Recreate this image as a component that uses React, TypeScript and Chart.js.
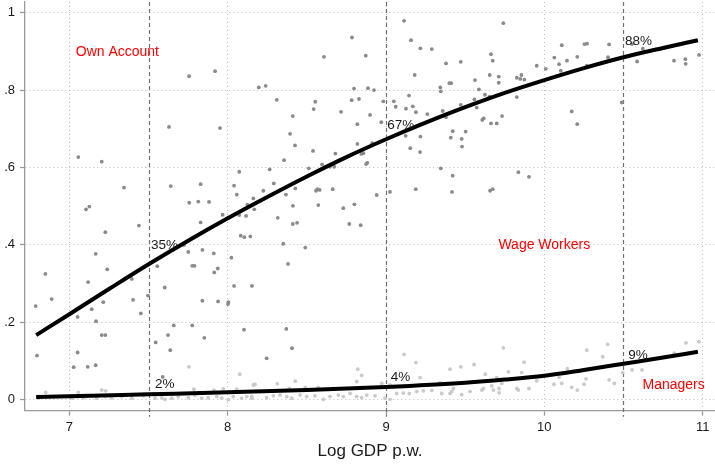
import React, { useEffect, useRef } from "react";
import { Chart, registerables } from "chart.js";

Chart.register(...registerables);

// ---- Data ----
const xTickValues = [7, 8, 9, 10, 11];
const xTickLabels = ["7", "8", "9", "10", "11"];
const yTickValues = [0, 0.2, 0.4, 0.6, 0.8, 1];
const yTickLabels = ["0", ".2", ".4", ".6", ".8", "1"];
const xAxisTitle = "Log GDP p.w.";

// Share of wage workers (dark points)
const wageWorkerPoints: [number, number][] = [
  [7.056, 0.627], [7.204, 0.615], [7.345, 0.548], [7.629, 0.705], [7.756, 0.836], [7.92, 0.849], [7.951, 0.702],
  [6.787, 0.242], [6.848, 0.325], [6.888, 0.26], [6.795, 0.114], [7.105, 0.492], [7.126, 0.499], [7.227, 0.433],
  [7.166, 0.377], [7.239, 0.337], [7.118, 0.304], [7.141, 0.234], [7.214, 0.252], [7.168, 0.203], [7.052, 0.214],
  [7.394, 0.312], [7.402, 0.258], [7.439, 0.45], [7.451, 0.223], [7.496, 0.269], [7.052, 0.122], [7.027, 0.084],
  [7.116, 0.085], [7.166, 0.089], [7.204, 0.167], [7.227, 0.167], [7.602, 0.29], [7.545, 0.148], [7.623, 0.167],
  [7.659, 0.192], [7.637, 0.128], [7.589, 0.059], [7.84, 0.256], [7.939, 0.254], [8.004, 0.252], [8.002, 0.247],
  [8.04, 0.294], [7.776, 0.192], [7.852, 0.16],
  [7.64, 0.552], [7.829, 0.557], [7.757, 0.509], [7.814, 0.512], [7.882, 0.511], [7.829, 0.458], [7.968, 0.478],
  [8.073, 0.589], [8.04, 0.553], [8.057, 0.53], [8.124, 0.504], [8.162, 0.52], [8.168, 0.492], [8.073, 0.477],
  [8.116, 0.475], [8.082, 0.424], [8.105, 0.42], [8.143, 0.422], [8.023, 0.367], [7.751, 0.382], [7.84, 0.387],
  [7.912, 0.378], [7.776, 0.346], [7.79, 0.346], [7.915, 0.329], [7.937, 0.339], [7.555, 0.345], [7.724, 0.4],
  [8.265, 0.595], [8.356, 0.619], [8.291, 0.559], [8.225, 0.54], [8.368, 0.53], [8.427, 0.546], [8.412, 0.501],
  [8.316, 0.47], [8.411, 0.454], [8.438, 0.457], [8.351, 0.403], [8.381, 0.351], [8.49, 0.393], [8.512, 0.598],
  [8.596, 0.608], [8.539, 0.643], [8.68, 0.636], [8.663, 0.544], [8.558, 0.54], [8.566, 0.544], [8.581, 0.542],
  [8.572, 0.503], [8.73, 0.495], [8.8, 0.505], [8.768, 0.454], [8.84, 0.451], [8.941, 0.529], [8.844, 0.635],
  [8.857, 0.637], [8.874, 0.609], [8.882, 0.612], [8.646, 0.602], [8.673, 0.602],
  [9.114, 0.979], [9.158, 0.929], [9.217, 0.908], [9.289, 0.906], [9.379, 0.869], [9.472, 0.873], [9.181, 0.839],
  [9.562, 0.826], [8.785, 0.936], [8.608, 0.886], [8.872, 0.889], [8.196, 0.807], [8.24, 0.811], [8.31, 0.775],
  [8.798, 0.804], [8.886, 0.805], [8.924, 0.8], [8.783, 0.774], [8.829, 0.777], [8.553, 0.77], [8.543, 0.751],
  [8.716, 0.744], [8.899, 0.736], [8.983, 0.771], [9.049, 0.771], [9.061, 0.757], [9.145, 0.786], [9.126, 0.752],
  [9.169, 0.758], [9.189, 0.743], [9.261, 0.738], [9.346, 0.797], [9.343, 0.807], [9.4, 0.818], [9.411, 0.818],
  [9.358, 0.746], [9.379, 0.73], [9.472, 0.762], [9.558, 0.776], [8.411, 0.733], [8.394, 0.687], [8.425, 0.657],
  [8.819, 0.712], [8.819, 0.661], [8.913, 0.663], [8.97, 0.717], [9.025, 0.537], [9.124, 0.682], [9.153, 0.65],
  [9.217, 0.68], [9.215, 0.64], [9.188, 0.544], [9.346, 0.598], [9.421, 0.694], [9.409, 0.677], [9.478, 0.674],
  [9.503, 0.693], [9.48, 0.654], [9.421, 0.579], [9.417, 0.537],
  [8.103, 0.181], [8.37, 0.183], [8.406, 0.133], [8.246, 0.107], [8.153, 0.294],
  [9.741, 0.973], [9.663, 0.893], [9.674, 0.876], [9.655, 0.839], [9.712, 0.835], [9.712, 0.819], [9.587, 0.802],
  [9.625, 0.788], [9.653, 0.783], [9.573, 0.755], [9.608, 0.723], [9.617, 0.727], [9.663, 0.714], [9.699, 0.714],
  [9.733, 0.733], [9.826, 0.832], [9.848, 0.829], [9.874, 0.827], [9.855, 0.839], [9.826, 0.782], [9.952, 0.863],
  [10.009, 0.855], [10.063, 0.884], [10.093, 0.867], [10.104, 0.85], [10.11, 0.916], [10.143, 0.876], [10.208, 0.886],
  [10.253, 0.919], [10.27, 0.92], [10.268, 0.863], [10.409, 0.918], [10.402, 0.885], [10.173, 0.745], [10.208, 0.712],
  [10.489, 0.768], [10.554, 0.919], [10.622, 0.907], [10.586, 0.874], [10.819, 0.876], [10.891, 0.88], [10.893, 0.868],
  [10.977, 0.891], [9.836, 0.588], [9.903, 0.576], [9.657, 0.54], [9.674, 0.544],
];

// Share of managers (light points)
const managerPoints: [number, number][] = [
  [6.85, 0.019], [7.056, 0.019], [7.204, 0.025], [7.229, 0.023], [7.755, 0.085], [8.076, 0.066], [7.787, 0.027],
  [7.913, 0.025], [7.972, 0.028], [8.057, 0.027], [8.172, 0.04],
  [6.804, 0.004], [7.015, 0.004], [7.056, 0.008], [7.088, 0.005], [7.141, 0.01], [7.172, 0.004], [7.225, 0.008],
  [7.267, 0.005], [7.33, 0.008], [7.394, 0.004], [7.467, 0.01], [7.541, 0.004], [7.583, 0.005], [7.604, 0.001],
  [7.646, 0.004], [7.688, 0.008], [7.751, 0.005], [7.793, 0.012], [7.836, 0.004], [7.877, 0.005], [7.931, 0.008],
  [7.962, 0.004], [8.004, 0.0], [8.035, 0.008], [8.088, 0.004], [8.12, 0.008], [8.152, 0.004],
  [8.162, 0.038], [8.313, 0.041], [8.427, 0.048], [8.389, 0.029], [8.49, 0.032], [8.572, 0.032], [8.821, 0.079],
  [8.846, 0.063], [8.815, 0.047], [9.114, 0.117], [9.189, 0.096], [9.215, 0.057], [8.973, 0.042], [9.025, 0.038],
  [9.404, 0.079], [9.472, 0.085], [9.556, 0.091], [9.341, 0.044], [9.425, 0.029],
  [8.152, 0.008], [8.246, 0.005], [8.288, 0.01], [8.33, 0.012], [8.373, 0.008], [8.404, 0.004], [8.457, 0.012],
  [8.499, 0.008], [8.551, 0.01], [8.604, 0.001], [8.646, 0.008], [8.699, 0.012], [8.73, 0.008], [8.773, 0.016],
  [8.815, 0.008], [8.846, 0.005], [8.878, 0.012], [8.93, 0.01], [8.994, 0.004], [9.025, 0.001], [9.067, 0.016],
  [9.109, 0.017], [9.147, 0.016], [9.194, 0.021], [9.236, 0.023], [9.289, 0.024], [9.352, 0.016], [9.404, 0.016],
  [9.415, 0.021], [9.478, 0.013], [9.531, 0.021],
  [9.741, 0.134], [9.872, 0.097], [9.627, 0.066], [9.773, 0.072], [9.857, 0.07], [9.699, 0.057], [9.605, 0.025],
  [9.615, 0.029], [9.668, 0.036], [9.678, 0.025], [9.714, 0.029], [9.714, 0.018], [9.731, 0.042], [9.826, 0.029],
  [9.836, 0.025], [9.903, 0.029], [9.952, 0.049], [10.093, 0.058], [10.061, 0.04], [10.11, 0.042], [10.145, 0.08],
  [10.173, 0.032], [10.208, 0.025], [10.251, 0.04], [10.263, 0.054], [10.268, 0.128], [10.369, 0.111], [10.4, 0.143],
  [10.409, 0.051], [10.442, 0.042], [10.495, 0.07], [10.554, 0.077], [10.617, 0.077], [10.821, 0.12], [10.895, 0.147],
  [10.977, 0.15],
];

// Fitted curves
const wageFitX = [6.79, 7.0, 7.25, 7.5, 7.75, 8.0, 8.25, 8.5, 8.75, 9.0, 9.25, 9.5, 9.75, 10.0, 10.25, 10.5, 10.75, 10.97];
const wageFitY = [0.167, 0.221, 0.286, 0.35, 0.411, 0.469, 0.524, 0.577, 0.627, 0.673, 0.716, 0.756, 0.793, 0.826, 0.857, 0.885, 0.909, 0.929];
const managerFitX = [6.79, 7.0, 7.5, 8.0, 8.5, 9.0, 9.5, 9.75, 10.0, 10.25, 10.5, 10.75, 10.97];
const managerFitY = [0.007, 0.009, 0.014, 0.019, 0.025, 0.033, 0.044, 0.052, 0.062, 0.077, 0.093, 0.109, 0.124];

// Reference lines and annotations
const referenceLines = [7.5, 9, 10.5];
const percentLabels = ["35%", "67%", "88%", "2%", "4%", "9%"];
const percentLabelX = [7.515, 9.008, 10.51, 7.54, 9.03, 10.53];
const percentLabelY = [0.4, 0.71, 0.927, 0.04, 0.057, 0.116];
const groupLabels = ["Own Account", "Wage Workers", "Managers"];
const groupLabelX = [7.04, 9.71, 10.62];
const groupLabelY = [0.897, 0.4, 0.038];

const FONT = '"Liberation Sans", Arial, Helvetica, sans-serif';

const overlayPlugin = {
  id: "overlay",
  beforeDatasetsDraw(chart: any) {
    const { ctx, chartArea, scales } = chart;
    const x = scales.x;
    ctx.save();
    ctx.strokeStyle = "#707070";
    ctx.lineWidth = 1.2;
    ctx.setLineDash([4, 3]);
    for (const v of referenceLines) {
      const px = Math.round(x.getPixelForValue(v)) + 0.5;
      ctx.beginPath();
      ctx.moveTo(px, chartArea.top);
      ctx.lineTo(px, chartArea.bottom + 6);
      ctx.stroke();
    }
    ctx.restore();
  },
  afterDatasetsDraw(chart: any) {
    const { ctx, scales } = chart;
    const x = scales.x;
    const y = scales.y;
    ctx.save();
    ctx.textAlign = "left";
    ctx.textBaseline = "middle";
    ctx.font = `13.5px ${FONT}`;
    ctx.fillStyle = "#1a1a1a";
    percentLabels.forEach((t, i) => {
      ctx.fillText(t, x.getPixelForValue(percentLabelX[i]), y.getPixelForValue(percentLabelY[i]));
    });
    ctx.font = `14px ${FONT}`;
    ctx.fillStyle = "#ff0000";
    groupLabels.forEach((t, i) => {
      ctx.fillText(t, x.getPixelForValue(groupLabelX[i]), y.getPixelForValue(groupLabelY[i]));
    });
    ctx.restore();
  },
};

export default function App() {
  const canvasRef = useRef<HTMLCanvasElement | null>(null);

  useEffect(() => {
    const canvas = canvasRef.current;
    if (!canvas) return;
    const gridCommon = {
      color: "#bdbdbd",
      lineWidth: 1,
      drawTicks: true,
      tickLength: 5,
      tickColor: "#9a9a9a",
      tickWidth: 1.3,
      tickBorderDash: [],
    };
    const borderCommon = { display: true, color: "#9a9a9a", width: 1.3, dash: [1, 3] };
    const chart = new Chart(canvas, {
      type: "scatter",
      data: {
        datasets: [
          {
            type: "line",
            data: wageFitX.map((v, i) => ({ x: v, y: wageFitY[i] })),
            borderColor: "#000000",
            borderWidth: 4,
            pointRadius: 0,
            cubicInterpolationMode: "monotone",
            fill: false,
            order: 0,
          } as any,
          {
            type: "line",
            data: managerFitX.map((v, i) => ({ x: v, y: managerFitY[i] })),
            borderColor: "#000000",
            borderWidth: 4,
            pointRadius: 0,
            cubicInterpolationMode: "monotone",
            fill: false,
            order: 0,
          } as any,
          {
            data: wageWorkerPoints.map(([a, b]) => ({ x: a, y: b })),
            backgroundColor: "#8a8a8a",
            borderWidth: 0,
            pointRadius: 1.9,
            order: 1,
          },
          {
            data: managerPoints.map(([a, b]) => ({ x: a, y: b })),
            backgroundColor: "#cacaca",
            borderWidth: 0,
            pointRadius: 1.9,
            order: 2,
          },
        ],
      },
      options: {
        animation: false,
        responsive: false,
        devicePixelRatio: 1,
        layout: { autoPadding: false, padding: { top: 2, right: 0, left: 0, bottom: 0 } },
        plugins: { legend: { display: false }, tooltip: { enabled: false } },
        scales: {
          x: {
            type: "linear",
            min: 6.7195,
            max: 11.078,
            afterBuildTicks: (s: any) => {
              s.ticks = xTickValues.map((v) => ({ value: v }));
            },
            afterFit: (s: any) => {
              s.height = 54.3;
              s.paddingLeft = 0;
              s.paddingRight = 0;
            },
            ticks: {
              color: "#1a1a1a",
              font: { family: FONT, size: 13 },
              padding: 4,
              maxRotation: 0,
              autoSkip: false,
              callback: (v: any) => {
                const i = xTickValues.indexOf(Number(v));
                return i >= 0 ? xTickLabels[i] : "";
              },
            },
            grid: gridCommon as any,
            border: borderCommon as any,
            title: {
              display: true,
              text: xAxisTitle,
              color: "#1a1a1a",
              font: { family: FONT, size: 17 },
              padding: { top: 0, bottom: 3 },
            },
          },
          y: {
            type: "linear",
            min: -0.0284,
            max: 1.0277,
            afterBuildTicks: (s: any) => {
              s.ticks = yTickValues.map((v) => ({ value: v }));
            },
            afterFit: (s: any) => {
              s.width = 25;
              s.paddingTop = 0;
              s.paddingBottom = 0;
            },
            ticks: {
              color: "#1a1a1a",
              font: { family: FONT, size: 13 },
              padding: 5,
              autoSkip: false,
              callback: (v: any) => {
                const i = yTickValues.findIndex((t) => Math.abs(t - Number(v)) < 1e-9);
                return i >= 0 ? yTickLabels[i] : "";
              },
            },
            grid: gridCommon as any,
            border: borderCommon as any,
          },
        },
      } as any,
      plugins: [overlayPlugin],
    });
    return () => chart.destroy();
  }, []);

  return (
    <div style={{ position: "absolute", left: 0, top: 0, width: 715, height: 465, background: "#ffffff" }}>
      <canvas ref={canvasRef} width={715} height={465} style={{ display: "block" }} />
    </div>
  );
}
